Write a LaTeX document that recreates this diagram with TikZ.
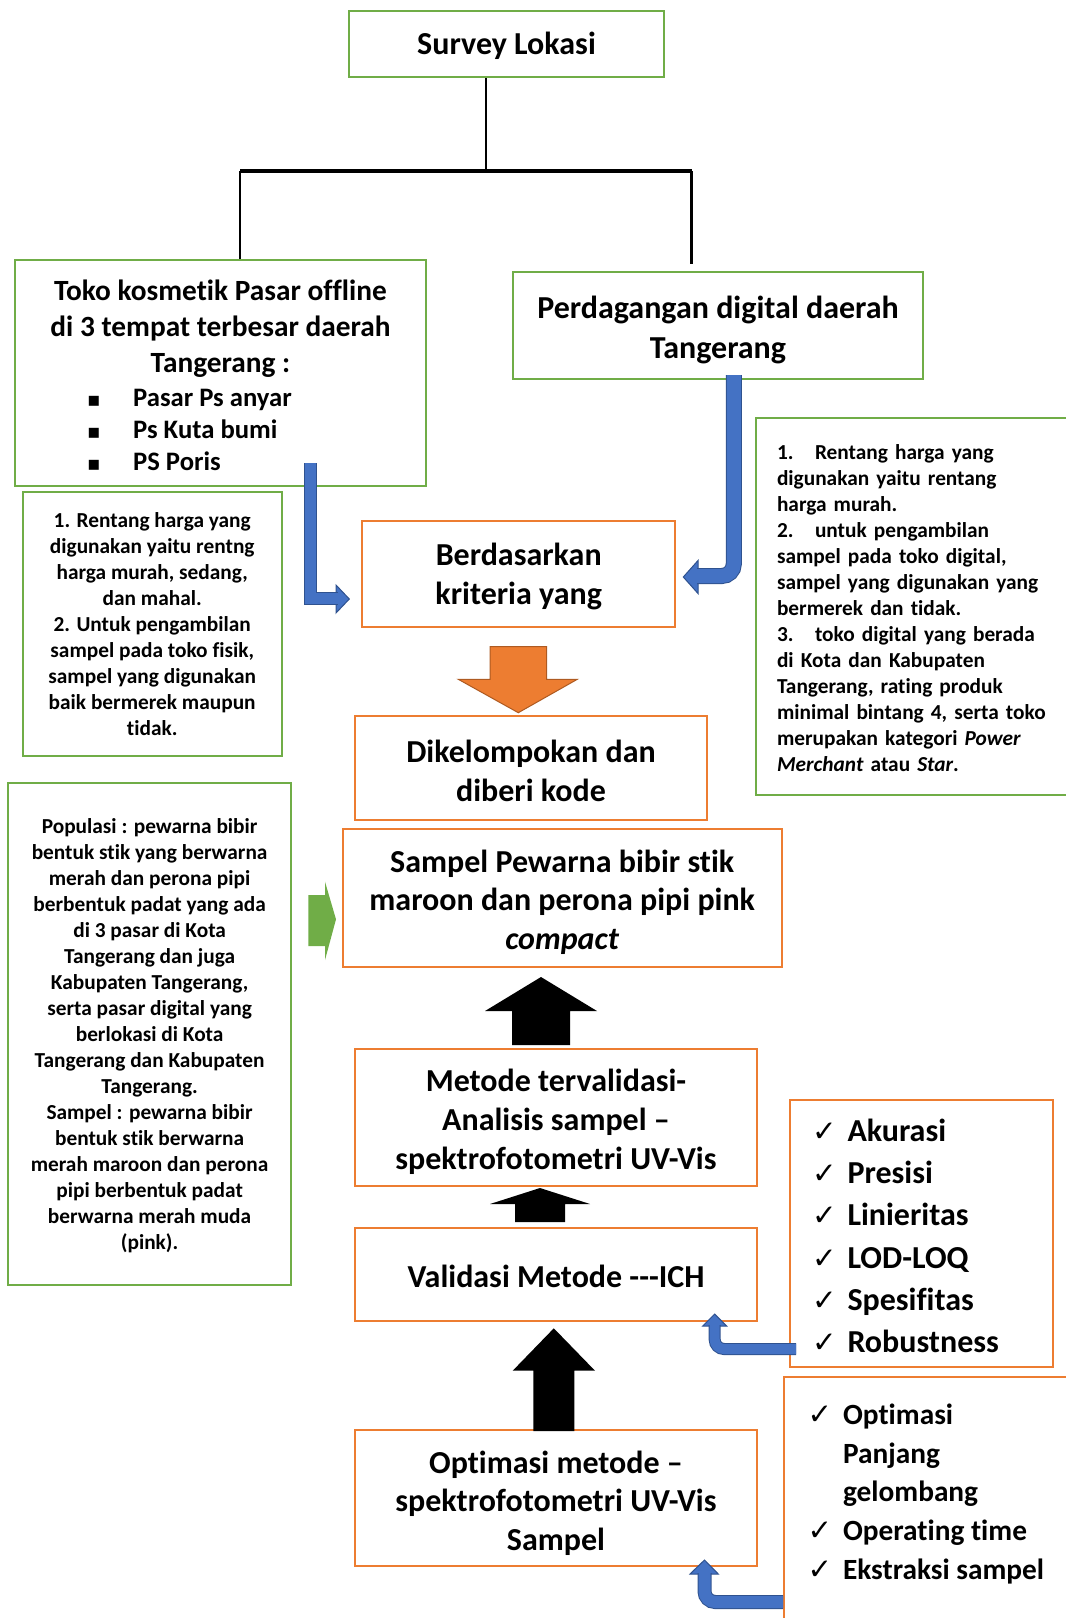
\documentclass[tikz,border=0pt]{standalone}
\usepackage{fontspec}
\setmainfont{Carlito}[Ligatures=NoCommon]
\newfontfamily\symfont{DejaVu Sans}
\usepackage{tikz}
\usetikzlibrary{positioning}
\definecolor{boxgreen}{RGB}{112,173,71}
\definecolor{boxorange}{RGB}{237,125,49}
\definecolor{arrowedge}{RGB}{174,90,33}
\definecolor{pipeblue}{RGB}{68,114,196}
\definecolor{pipeedge}{RGB}{47,82,143}
\newcommand{\chk}{\makebox[26.5pt][l]{\symfont\fontsize{22}{22}\selectfont ✓}}
\newcommand{\sqb}{\makebox[34.5pt][l]{\symfont\fontsize{15}{15}\selectfont ▪}}
\newcommand{\itemno}[1]{\makebox[28.5pt][l]{#1}}

\begin{document}
\begin{tikzpicture}[x=0.75pt, y=-0.75pt,
    greenbox/.style={rectangle, draw=boxgreen, line width=1.5pt, align=center, inner sep=0pt},
    orangebox/.style={rectangle, draw=boxorange, line width=1.5pt, align=center, inner sep=0pt},
    bigtext/.style={font=\bfseries\fontsize{24}{29}\selectfont},
    smalltext/.style={font=\bfseries\fontsize{16}{19.5}\selectfont},
    treeline/.style={line width=2pt, black},
    bluepipe/.style={draw=pipeedge, line width=0.75pt, double=pipeblue},
    bluehead/.style={fill=pipeblue, draw=pipeedge, line width=0.75pt},
    blockarrow/.style={fill=black}
  ]
    \useasboundingbox (0,0) rectangle (1065,1618);

    % top of the tree
    \node[greenbox, bigtext, minimum width=236.25pt, minimum height=49.5pt] (survey) at (506.5,44) {\rule{0pt}{19pt}Survey Lokasi};
    \node[greenbox, minimum width=308.25pt, minimum height=169.5pt, font=\bfseries\fontsize{22}{27}\selectfont] (toko) at (220.5,373)
      {\rule{0pt}{19pt}Toko kosmetik Pasar offline\\di 3 tempat terbesar daerah\\Tangerang :\\[-1pt]
       {\fontsize{20}{24}\selectfont\makebox[200pt][l]{\sqb Pasar Ps anyar}}\\[-3pt]
       {\fontsize{20}{24}\selectfont\makebox[200pt][l]{\sqb Ps Kuta bumi}}\\[-3pt]
       {\fontsize{20}{24}\selectfont\makebox[200pt][l]{\sqb PS Poris}}};
    \node[greenbox, font=\bfseries\fontsize{24}{30}\selectfont, minimum width=307.5pt, minimum height=80.25pt] (perdag) at (718,325.5)
      {\rule{0pt}{23pt}Perdagangan digital daerah\\Tangerang};

    % notes
    \node[greenbox, smalltext, align=left, text width=211.5pt, inner xsep=15.75pt, minimum height=283.1pt] (rnote) at (918,606.25)
      {\rule{0pt}{14pt}\itemno{1.}Rentang harga yang\\digunakan yaitu rentang\\harga murah.\\
       \itemno{2.}untuk pengambilan\\sampel pada toko digital,\\sampel yang digunakan yang\\bermerek dan tidak.\\
       \itemno{3.}toko digital yang berada\\di Kota dan Kabupaten\\Tangerang, rating produk\\minimal bintang 4, serta toko\\
       merupakan kategori \textit{Power}\\\textit{Merchant} atau \textit{Star}.};
    \node[greenbox, smalltext, minimum width=194.25pt, minimum height=198.4pt] (lnote) at (152.2,624.2)
      {1. Rentang harga yang\\digunakan yaitu rentng\\harga murah, sedang,\\dan mahal.\\2. Untuk pengambilan\\
       sampel pada toko fisik,\\sampel yang digunakan\\baik bermerek maupun\\tidak.};
    \node[greenbox, smalltext, minimum width=212pt, minimum height=376.5pt] (popnote) at (149.6,1034)
      {\rule{0pt}{14pt}Populasi : pewarna bibir\\bentuk stik yang berwarna\\merah dan perona pipi\\berbentuk padat yang ada\\
       di 3 pasar di Kota\\Tangerang dan juga\\Kabupaten Tangerang,\\serta pasar digital yang\\berlokasi di Kota\\
       Tangerang dan Kabupaten\\Tangerang.\\Sampel : pewarna bibir\\bentuk stik berwarna\\merah maroon dan perona\\
       pipi berbentuk padat\\berwarna merah muda\\(pink).};

    % main column
    \node[orangebox, bigtext, minimum width=234.5pt, minimum height=79.3pt] (berdas) at (518.7,573.8)
      {\rule{0pt}{21pt}Berdasarkan\\kriteria yang};
    \node[orangebox, bigtext, minimum width=264pt, minimum height=78pt] (dikel) at (531,768)
      {\rule{0pt}{21pt}Dikelompokan dan\\diberi kode};
    \node[orangebox, bigtext, minimum width=329.25pt, minimum height=103pt] (sampel) at (562.2,898)
      {\rule{0pt}{23pt}Sampel Pewarna bibir stik\\maroon dan perona pipi pink\\\textit{compact}};
    \node[orangebox, bigtext, minimum width=301.3pt, minimum height=102.5pt] (metode) at (556,1117.7)
      {\rule{0pt}{23pt}Metode tervalidasi-\\Analisis sampel –\\spektrofotometri UV-Vis};
    \node[orangebox, bigtext, minimum width=301.3pt, minimum height=69.75pt] (validasi) at (556,1274.2)
      {\rule{0pt}{20pt}Validasi Metode -\kern0pt-\kern0pt-ICH};
    \node[orangebox, bigtext, minimum width=301.3pt, minimum height=101.8pt] (optim) at (556,1497.8)
      {\rule{0pt}{25pt}Optimasi metode –\\spektrofotometri UV-Vis\\Sampel};

    % check lists
    \node[orangebox, align=left, text width=164pt, inner xsep=16.6pt, minimum height=200.25pt,
          font=\bfseries\fontsize{24}{31.7}\selectfont] (checks) at (921.5,1233)
      {\rule{0pt}{21pt}\chk Akurasi\\\chk Presisi\\\chk Linieritas\\\chk LOD-LOQ\\\chk Spesifitas\\\chk Robustness};
    \node[orangebox, anchor=north west, inner xsep=18pt, inner ysep=19.5pt,
          font=\bfseries\fontsize{22}{29}\selectfont] (optlist) at (782.7,1376)
      {\begin{minipage}[t][200pt][t]{200pt}\raggedright
       \rule{0pt}{16pt}\chk Optimasi\\\hspace*{26.5pt}Panjang\\\hspace*{26.5pt}gelombang\\\chk Operating time\\\chk Ekstraksi sampel
       \end{minipage}};

    % tree lines
    \coordinate (hub) at (486,171);
    \coordinate (tl) at (240,171);
    \coordinate (tr) at (691.5,171);
    \coordinate (trend) at (691.5,264);
    \draw[treeline] (survey.south -| hub) -- (hub);
    \draw[treeline, line width=2.6pt] (tl) -- (tr);
    \draw[treeline] (tl) -- (tl |- toko.north);
    \draw[treeline] (tr) -- (trend);

    % blue bent arrows
    \filldraw[bluehead] (336,585) -- (349.3,599) -- (336,613) -- cycle;
    \draw[bluepipe, double distance=8pt, line join=miter] (310.3,463) -- (310.3,598.5) -- (337.5,598.5);
    \filldraw[bluehead] (698,560.5) -- (683.3,577) -- (698,593.5) -- cycle;
    \draw[bluepipe, double distance=10.5pt, rounded corners=9pt] (733.8,375) -- (733.8,576) -- (697,576);
    \filldraw[bluehead] (702.7,1326) -- (714.7,1314) -- (726.7,1326) -- cycle;
    \draw[bluepipe, double distance=7.5pt, rounded corners=7pt] (796,1349) -- (714.7,1349) -- (714.7,1325);
    \filldraw[bluehead] (690,1574) -- (704.5,1560) -- (718.3,1574) -- cycle;
    \draw[bluepipe, double distance=9pt, rounded corners=8pt] (783,1602) -- (704.5,1602) -- (704.5,1573);

    % block arrows
    \filldraw[fill=boxorange, draw=arrowedge, line width=0.75pt] (490,646.7) -- (546.7,646.7) -- (546.7,679.3)
      -- (577.3,679.3) -- (518.3,712.7) -- (458.3,679.3) -- (490,679.3) -- cycle;
    \fill[boxgreen] (308.3,895) -- (325,895) -- (325,881.7) -- (336,919.3) -- (325,960) -- (325,946) -- (308.3,946) -- cycle;
    \fill[blockarrow] (512,1045) -- (512,1011) -- (485,1011) -- (541,977) -- (597,1011) -- (570,1011) -- (570,1045) -- cycle;
    \fill[blockarrow] (515,1222) -- (515,1204) -- (490,1204) -- (540,1188) -- (590,1204) -- (565,1204) -- (565,1222) -- cycle;
    \fill[blockarrow] (533.3,1431) -- (533.3,1370.7) -- (512.7,1370.7) -- (553.8,1328.3) -- (595,1370.7)
      -- (574.3,1370.7) -- (574.3,1431) -- cycle;
  \end{tikzpicture}
\end{document}
